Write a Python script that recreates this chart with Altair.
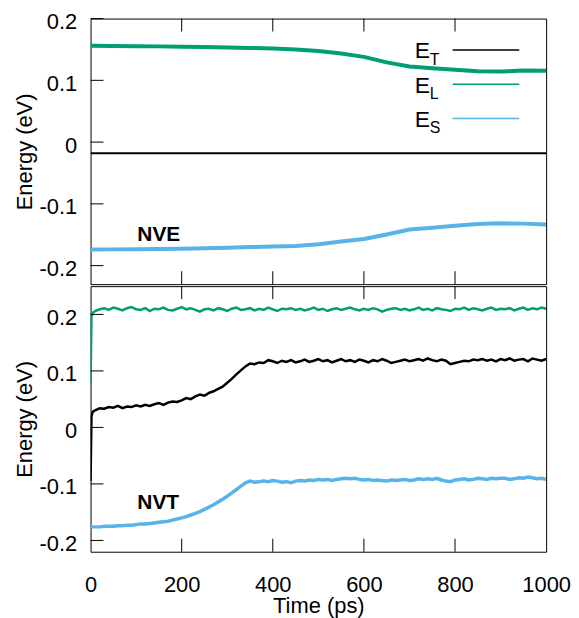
import altair as alt
import pandas as pd

SERIES = ["E_T", "E_L", "E_S"]
SUBS = ["T", "L", "S"]
COLORS = ["#000000", "#009e73", "#56b4e9"]
Y_TICKS = [-0.2, -0.1, 0.0, 0.1, 0.2]
X_TICKS = [0, 200, 400, 600, 800, 1000]
X_INNER_TICKS = [200, 400, 600, 800]

# ---- NVE (top panel) ----
nve_t = [0, 50, 100, 150, 200, 250, 300, 350, 400, 450, 500,
         550, 600, 650, 700, 750, 800, 850, 900, 950, 1000]
nve_EL = [0.156, 0.1557, 0.1553, 0.155, 0.1545, 0.154, 0.1533, 0.1525, 0.1515, 0.150, 0.1475,
          0.1435, 0.138, 0.129, 0.1225, 0.1195, 0.117, 0.1148, 0.1142, 0.1158, 0.1155]
nve_ET = [-0.018, -0.018, -0.018, -0.018, -0.018, -0.018, -0.018, -0.018, -0.018, -0.018, -0.018,
          -0.018, -0.018, -0.018, -0.018, -0.018, -0.018, -0.018, -0.018, -0.018, -0.018]
nve_ES = [-0.174, -0.1737, -0.1733, -0.173, -0.1725, -0.172, -0.171, -0.170, -0.169, -0.1683, -0.1655,
          -0.161, -0.157, -0.1495, -0.1415, -0.1385, -0.1355, -0.1325, -0.1315, -0.132, -0.1335]

# ---- NVT (bottom panel) ----
nvt_t = [0, 2, 5] + list(range(10, 1001, 10))
nvt_EL = [0.080, 0.195, 0.203,
          0.206, 0.209, 0.211, 0.208, 0.212, 0.210, 0.207, 0.211, 0.213, 0.209,
          0.208, 0.211, 0.206, 0.210, 0.209, 0.212, 0.208, 0.207, 0.210, 0.213,
          0.209, 0.211, 0.208, 0.205, 0.209, 0.210, 0.207, 0.211, 0.209, 0.206,
          0.210, 0.212, 0.208, 0.209, 0.211, 0.207, 0.210, 0.208, 0.212, 0.209,
          0.206, 0.210, 0.209, 0.211, 0.208, 0.210, 0.207, 0.209, 0.212, 0.208,
          0.210, 0.206, 0.209, 0.211, 0.208, 0.210, 0.212, 0.209, 0.207, 0.210,
          0.208, 0.211, 0.209, 0.205, 0.208, 0.210, 0.211, 0.208, 0.210, 0.207,
          0.209, 0.212, 0.208, 0.210, 0.207, 0.211, 0.209, 0.208, 0.206, 0.210,
          0.209, 0.212, 0.208, 0.211, 0.209, 0.207, 0.210, 0.212, 0.208, 0.210,
          0.209, 0.211, 0.207, 0.210, 0.212, 0.208, 0.211, 0.209, 0.212, 0.210]
nvt_ET = [-0.095, 0.020, 0.028,
          0.030, 0.034, 0.033, 0.036, 0.035, 0.038, 0.034, 0.037, 0.036, 0.039,
          0.037, 0.040, 0.038, 0.041, 0.043, 0.040, 0.044, 0.046, 0.045, 0.048,
          0.052, 0.050, 0.055, 0.058, 0.056, 0.061, 0.064, 0.068, 0.072, 0.079,
          0.086, 0.094, 0.101, 0.108, 0.113, 0.112, 0.115, 0.114, 0.119, 0.117,
          0.114, 0.118, 0.116, 0.119, 0.115, 0.117, 0.120, 0.116, 0.118, 0.121,
          0.117, 0.119, 0.115, 0.118, 0.121, 0.117, 0.119, 0.116, 0.120, 0.118,
          0.115, 0.119, 0.117, 0.121, 0.118, 0.114, 0.116, 0.118, 0.120, 0.117,
          0.119, 0.121, 0.118, 0.122, 0.119, 0.117, 0.120, 0.118, 0.112, 0.114,
          0.116, 0.118, 0.117, 0.120, 0.119, 0.121, 0.118, 0.120, 0.117, 0.121,
          0.119, 0.122, 0.118, 0.120, 0.121, 0.117, 0.122, 0.120, 0.118, 0.121]
nvt_ES = [-0.176, -0.176, -0.176,
          -0.176, -0.176, -0.175, -0.175, -0.175, -0.174, -0.174, -0.173, -0.173, -0.172,
          -0.171, -0.171, -0.170, -0.169, -0.168, -0.167, -0.166, -0.164, -0.162, -0.160,
          -0.158, -0.155, -0.152, -0.149, -0.145, -0.141, -0.137, -0.132, -0.127, -0.122,
          -0.116, -0.110, -0.104, -0.098, -0.095, -0.097, -0.096, -0.095, -0.096, -0.094,
          -0.095, -0.097, -0.096, -0.098, -0.095, -0.094, -0.095, -0.093, -0.094, -0.092,
          -0.093, -0.092, -0.094, -0.092, -0.091, -0.090, -0.091, -0.090, -0.092, -0.093,
          -0.092, -0.094, -0.093, -0.094, -0.095, -0.093, -0.094, -0.093, -0.092, -0.094,
          -0.093, -0.091, -0.092, -0.091, -0.092, -0.090, -0.093, -0.095, -0.096, -0.093,
          -0.092, -0.091, -0.093, -0.092, -0.090, -0.091, -0.092, -0.090, -0.091, -0.090,
          -0.090, -0.092, -0.091, -0.089, -0.090, -0.088, -0.089, -0.091, -0.090, -0.092]

W, H = 458, 267
FONT = "Liberation Sans"


def long_df(t, cols):
    rows = []
    for name, vals in zip(SERIES, cols):
        for ti, v in zip(t, vals):
            rows.append({"t": ti, "v": v, "s": name})
    return pd.DataFrame(rows)


nve = long_df(nve_t, [nve_ET, nve_EL, nve_ES])
nvt = long_df(nvt_t, [nvt_ET, nvt_EL, nvt_ES])

label_expr = ("datum.value == 0 ? '0' : (datum.value < 0 ? '-' : '') + "
              "format(abs(datum.value), '.1f')")


def panel(df, ydomain, tag, widths, bottom, legend):
    if bottom:
        xaxis = alt.Axis(values=X_TICKS, tickSize=0, domain=False, grid=False,
                         labelPadding=23, labelFlush=False, format="d",
                         title="Time (ps)", titlePadding=0)
    else:
        xaxis = None
    xenc = alt.X("t:Q", scale=alt.Scale(domain=[0, 1000], nice=False), axis=xaxis)
    yenc = alt.Y("v:Q", scale=alt.Scale(domain=ydomain, nice=False, zero=False),
                 axis=alt.Axis(values=Y_TICKS, tickSize=0, domain=False, grid=False,
                               labelPadding=14, labelFlush=False, labelOffset=3,
                               labelExpr=label_expr,
                               title="Energy (eV)", titlePadding=2))
    layers = []
    for name, col, w in zip(SERIES, COLORS, widths):
        layers.append(
            alt.Chart(df).transform_filter(alt.datum.s == name)
            .mark_line(color=col, strokeWidth=w, clip=True)
            .encode(x=xenc, y=yenc)
        )
    yt = pd.DataFrame({"v": Y_TICKS})
    layers.append(alt.Chart(yt).mark_rule(color="black", strokeWidth=1)
                  .encode(y=yenc, x=alt.value(0), x2=alt.value(13)))
    xt = pd.DataFrame({"t": X_INNER_TICKS})
    layers.append(alt.Chart(xt).mark_rule(color="black", strokeWidth=1)
                  .encode(x=xenc, y=alt.value(0), y2=alt.value(13)))
    layers.append(alt.Chart(xt).mark_rule(color="black", strokeWidth=1)
                  .encode(x=xenc, y=alt.value(H - 13), y2=alt.value(H)))
    one = pd.DataFrame({"a": [0]})
    layers.append(alt.Chart(one).mark_text(font=FONT, fontSize=21, fontWeight="bold",
                                           align="left", baseline="alphabetic", color="black")
                  .encode(x=alt.value(47), y=alt.value(224), text=alt.value(tag)))
    if legend:
        for i, (sub, col) in enumerate(zip(SUBS, COLORS)):
            base_y = 40 + 34.5 * i
            layers.append(alt.Chart(one).mark_text(font=FONT, fontSize=23, align="left",
                                                   baseline="alphabetic", color="black")
                          .encode(x=alt.value(326), y=alt.value(base_y), text=alt.value("E")))
            layers.append(alt.Chart(one).mark_text(font=FONT, fontSize=16, align="left",
                                                   baseline="alphabetic", color="black")
                          .encode(x=alt.value(341), y=alt.value(base_y + 6.5), text=alt.value(sub)))
            layers.append(alt.Chart(one).mark_rule(color=col, strokeWidth=1.5)
                          .encode(x=alt.value(364), x2=alt.value(431),
                                  y=alt.value(base_y - 8.5)))
    return alt.layer(*layers).properties(width=W, height=H)


top = panel(nve, [-0.23, 0.2], "NVE", [2, 4, 4], bottom=False, legend=True)
bot = panel(nvt, [-0.22, 0.25], "NVT", [2.5, 2.5, 3.5], bottom=True, legend=False)

chart = alt.vconcat(top, bot, spacing=0).properties(
    padding={"left": 5, "top": 0, "right": 0, "bottom": 0}
).configure_view(stroke="black", strokeWidth=1).configure_axis(
    labelFont=FONT, labelFontSize=22, labelColor="black",
    titleFont=FONT, titleFontSize=22, titleFontWeight="normal", titleColor="black"
)

chart.save("out.html", embed_options={"renderer": "svg", "actions": False})
